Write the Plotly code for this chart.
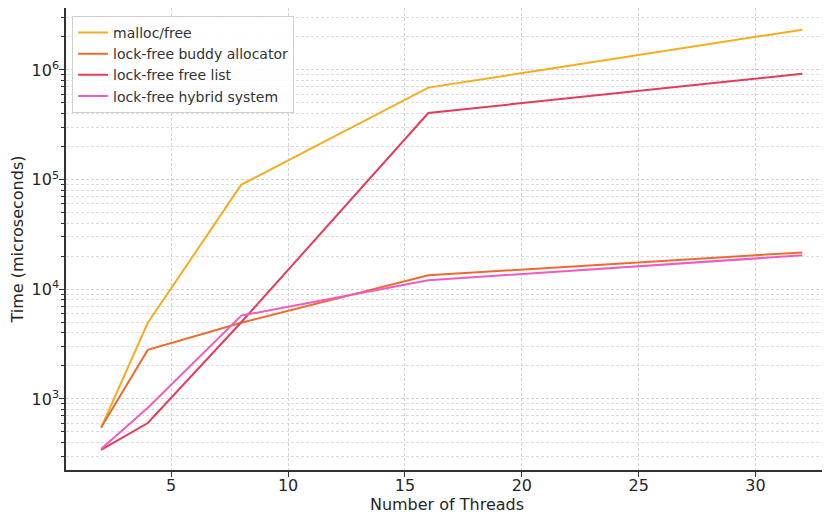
import plotly.graph_objects as go

threads = [2, 4, 8, 16, 32]
malloc_free = [545, 4950, 90000, 690000, 2330000]
buddy = [550, 2800, 4950, 13400, 21700]
free_list = [343, 603, 5000, 405000, 925000]
hybrid = [350, 830, 5750, 12100, 20400]

series = [
    ("malloc/free", malloc_free, "#F7AC1E"),
    ("lock-free buddy allocator", buddy, "#EE6B2E"),
    ("lock-free free list", free_list, "#E63B5A"),
    ("lock-free hybrid system", hybrid, "#F05BC3"),
]

fig = go.Figure()
for name, vals, col in series:
    fig.add_trace(go.Scatter(x=threads, y=vals, name=name, mode="lines",
                             line=dict(color=col, width=2)))

major = [1e3, 1e4, 1e5, 1e6]
minor_vals = [m * 10 ** e for e in range(2, 7) for m in range(2, 10)]

# page body has an 8px margin, so the figure is drawn 8px smaller
fig.update_layout(
    width=822, height=507,
    margin=dict(l=58, r=2, t=0, b=45),
    paper_bgcolor="white", plot_bgcolor="white",
    font=dict(family="DejaVu Sans", color="#262626", size=16),
    legend=dict(x=0.008, y=0.983, xanchor="left", yanchor="top",
                bgcolor="rgba(255,255,255,0.85)", bordercolor="#d0d0d0", borderwidth=1,
                font=dict(size=14, color="#333333"), tracegroupgap=0),
    showlegend=True,
)
fig.update_xaxes(
    range=[0.5, 33.1], tickvals=[5, 10, 15, 20, 25, 30],
    showline=True, linecolor="#333333", linewidth=1.5, mirror=False,
    ticks="outside", ticklen=5, tickcolor="#333333", ticklabelstandoff=-5,
    showgrid=True, gridcolor="#d3d3d3", griddash="3px,2px", gridwidth=1,
    zeroline=False, automargin=False,
    title=dict(text="Number of Threads", font=dict(size=16), standoff=5),
)
fig.update_yaxes(
    type="log", range=[2.352, 6.565],
    tickvals=major, ticktext=["10<sup>3</sup>", "10<sup>4</sup>", "10<sup>5</sup>", "10<sup>6</sup>"],
    showline=True, linecolor="#333333", linewidth=1.5, mirror=False,
    ticks="outside", ticklen=5, tickcolor="#333333", ticklabelstandoff=-3,
    showgrid=True, gridcolor="#d3d3d3", griddash="3px,2px", gridwidth=1,
    minor=dict(tickmode="array", tickvals=minor_vals, ticks="outside", ticklen=3,
               tickcolor="#333333", showgrid=True, gridcolor="#dcdcdc", griddash="3px,2px"),
    zeroline=False, automargin=False,
    title=dict(text="Time (microseconds)", font=dict(size=16), standoff=8),
)

fig.write_html("out.html")
